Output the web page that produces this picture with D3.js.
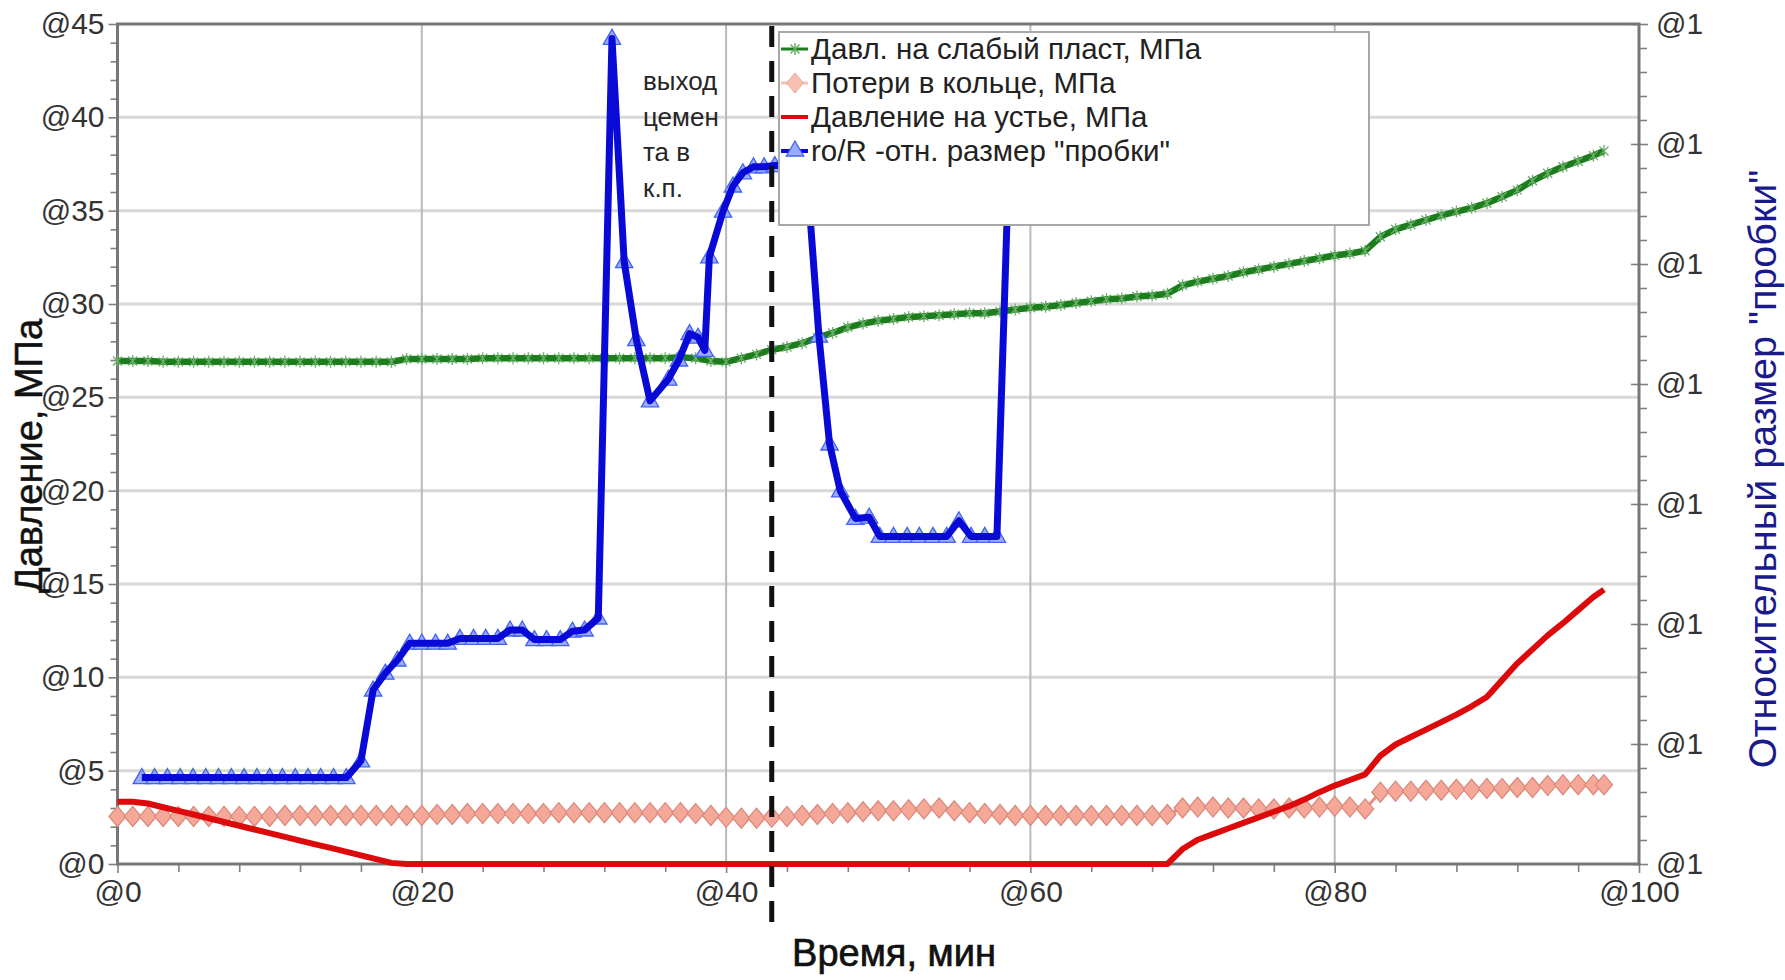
<!DOCTYPE html>
<html><head><meta charset="utf-8">
<script src="https://cdn.jsdelivr.net/npm/d3@7/dist/d3.min.js"></script>
<style>
body{margin:0;background:#fff;}
text{font-family:"Liberation Sans",Arial,sans-serif;}
</style>
</head><body>
<svg id="chart" width="1785" height="980"></svg>
<script>
// ---------------- DATA ----------------
// shared time grid (min) for the three pressure series
const timeGrid = [0,1,2,3,4,5,6,7,8,9,10,11,12,13,14,15,16,17,18,19,20,21,22,23,24,25,26,27,28,29,30,31,32,33,34,35,36,37,38,39,40,41,42,43,44,45,46,47,48,49,50,51,52,53,54,55,56,57,58,59,60,61,62,63,64,65,66,67,68,69,70,71,72,73,74,75,76,77,78,79,80,81,82,83,84,85,86,87,88,89,90,91,92,93,94,95,96,97,97.7];

// Давл. на слабый пласт, МПа
const weakLayerPressure = [26.95,26.95,26.95,26.9,26.9,26.9,26.9,26.9,26.9,26.9,26.9,26.9,26.9,26.9,26.9,26.9,26.9,26.9,26.9,
  27.05,27.05,27.05,27.05,27.05,27.1,27.1,27.1,27.1,27.1,27.1,27.1,27.1,27.1,27.1,27.1,27.1,27.1,27.15,27.1,
  26.95,26.9,27.1,27.3,27.55,27.7,27.9,28.2,28.45,28.75,28.95,
  29.1,29.2,29.3,29.35,29.4,29.45,29.5,29.5,29.6,29.7,
  29.8,29.85,29.95,30.05,30.15,30.25,30.3,30.4,30.45,30.55,
  31.0,31.2,31.35,31.5,31.7,31.85,32.0,32.15,32.3,32.45,
  32.6,32.7,32.85,33.6,34.0,34.25,34.5,34.75,34.95,35.15,
  35.4,35.75,36.1,36.6,37.0,37.35,37.65,37.95,
  38.2];

// Потери в кольце, МПа
const annulusLosses = [2.55,2.55,2.55,2.55,2.55,2.55,2.55,2.55,2.55,2.55,2.55,
  2.6,2.6,2.6,2.6,2.6,2.6,2.6,2.6,2.6,2.6,
  2.65,2.65,2.7,2.7,2.7,2.7,2.7,2.7,2.75,2.75,
  2.75,2.75,2.75,2.75,2.75,2.75,2.75,2.7,
  2.6,2.5,2.45,2.45,2.5,2.55,2.6,2.65,2.7,2.75,2.8,
  2.85,2.85,2.9,2.95,3.0,2.85,2.75,2.7,2.65,2.6,
  2.6,2.6,2.6,2.6,2.6,2.6,2.6,2.6,2.6,2.65,
  3.0,3.05,3.05,3.0,3.0,2.95,2.95,3.0,3.0,3.05,
  3.1,3.05,2.95,3.85,3.9,3.9,3.95,3.95,4.0,4.0,
  4.05,4.05,4.1,4.1,4.2,4.25,4.25,4.25,
  4.25];

// Давление на устье, МПа
const wellheadPressure = [3.34,3.34,3.24,3.04,2.85,2.65,2.45,2.25,2.05,1.85,
  1.65,1.45,1.25,1.05,0.86,0.66,0.46,0.26,0.06,0,
  0,0,0,0,0,0,0,0,0,0,0,0,0,0,0,0,0,0,0,0,0,0,0,0,0,0,0,0,0,0,
  0,0,0,0,0,0,0,0,0,0,0,0,0,0,0,0,0,0,0,0,
  0.8,1.3,1.6,1.9,2.2,2.5,2.8,3.1,3.45,3.85,
  4.2,4.5,4.8,5.8,6.4,6.8,7.2,7.6,8.0,8.45,
  8.95,9.85,10.75,11.5,12.25,12.9,13.6,14.3,
  14.7];

// ro/R - отн. размер "пробки" (secondary axis)
const plugTime = [1.6,2.44,3.28,4.12,4.96,5.8,6.64,7.48,8.32,9.16,10.0,10.84,11.68,12.52,13.36,14.2,15.04,
  16.0,16.8,17.6,18.4,19.2,20.0,20.9,21.7,22.5,23.4,24.2,25.0,25.8,26.6,27.4,28.2,29.1,29.9,30.7,31.6,
  32.5,33.3,34.1,35.0,36.2,36.9,37.6,38.15,38.6,38.9,39.8,40.45,41.1,41.8,42.5,43.2,44.0,44.7,45.4,
  46.1,46.8,47.5,48.5,49.4,50.1,51.0,51.9,52.7,53.6,54.5,55.3,56.1,57.0,57.8,58.6];
const plugSize = [0.072,0.072,0.072,0.072,0.072,0.072,0.072,0.072,0.072,0.072,0.072,0.072,0.072,0.072,0.072,0.072,0.072,
  0.086,0.145,0.159,0.170,0.184,0.184,0.184,0.184,0.188,0.188,0.188,0.188,0.195,0.195,0.187,0.187,0.187,0.194,0.195,0.205,
  0.688,0.502,0.437,0.386,0.404,0.420,0.442,0.439,0.428,0.506,0.544,0.565,0.576,0.581,0.581,0.582,0.582,0.576,0.560,
  0.440,0.350,0.311,0.288,0.289,0.273,0.273,0.273,0.273,0.273,0.273,0.286,0.273,0.273,0.273,0.591];

const markerTime = 43.0; // vertical dashed marker

const leftTickValues = [0,5,10,15,20,25,30,35,40,45];
const leftTickLabels = ["@0","@5","@10","@15","@20","@25","@30","@35","@40","@45"];
const xTickValues = [0,20,40,60,80,100];
const xTickLabels = ["@0","@20","@40","@60","@80","@100"];
const rightTickValues = [0,0.1,0.2,0.3,0.4,0.5,0.6,0.7];
const rightTickLabels = ["@1","@1","@1","@1","@1","@1","@1","@1"];

const seriesNames = ["Давл. на слабый пласт, МПа","Потери в кольце, МПа","Давление на устье, МПа","ro/R -отн. размер \"пробки\""];
const annotationLines = ["выход","цемен","та в","к.п."];
const xTitle = "Время, мин";
const yTitle = "Давление, МПа";
const y2Title = "Относительный размер \"пробки\"";

// ---------------- LAYOUT ----------------
const M = {left:117.5, right:1639, top:24, bottom:864};
const x = d3.scaleLinear().domain([0,100]).range([M.left, M.right]);
const y = d3.scaleLinear().domain([0,45]).range([M.bottom, M.top]);
const y2 = d3.scaleLinear().domain([0,0.7]).range([M.bottom, M.top]);
const svg = d3.select("#chart");

const C = {green:"#1b7d1b", greenMk:"#6aae6a", red:"#dc0a0a", blue:"#0a0ad6",
  triFill:"#9aacff", triStroke:"#4262f0", salFill:"#f6a898", salStroke:"#d98a7d", salLine:"#ef8a7a"};

// gridlines
const grid = svg.append("g");
grid.selectAll(".hg").data(leftTickValues.filter(v=>v>0 && v<45)).join("line")
  .attr("x1",M.left).attr("x2",M.right).attr("y1",d=>y(d)).attr("y2",d=>y(d))
  .attr("stroke","#d8d8d8").attr("stroke-width",3);
grid.selectAll(".vg").data(xTickValues.filter(v=>v>0 && v<100)).join("line")
  .attr("y1",M.top).attr("y2",M.bottom).attr("x1",d=>x(d)).attr("x2",d=>x(d))
  .attr("stroke","#b9b9b9").attr("stroke-width",2);

function styleAxis(g){
  g.select(".domain").remove();
  g.selectAll(".tick line").attr("stroke","#808080").attr("stroke-width",1.6);
  g.selectAll(".tick text").attr("fill","#333").style("font-size","30px");
}
// minor ticks
svg.append("g").attr("transform",`translate(${M.left},0)`)
  .call(d3.axisLeft(y).tickValues(d3.range(0,46,1).filter(v=>v%5)).tickSize(7).tickFormat(""))
  .call(styleAxis);
svg.append("g").attr("transform",`translate(0,${M.bottom})`)
  .call(d3.axisBottom(x).tickValues(d3.range(0,101,4).filter(v=>v%20)).tickSize(8).tickFormat(""))
  .call(styleAxis);
svg.append("g").attr("transform",`translate(${M.right},0)`)
  .call(d3.axisRight(y2).tickValues(d3.range(0,70,2).map(v=>v/100).filter((v,i)=>i%5)).tickSize(8).tickFormat(""))
  .call(styleAxis);
// major axes
svg.append("g").attr("transform",`translate(${M.left},0)`)
  .call(d3.axisLeft(y).tickValues(leftTickValues).tickSize(9).tickPadding(4).tickFormat((d,i)=>leftTickLabels[i]))
  .call(styleAxis);
svg.append("g").attr("transform",`translate(0,${M.bottom})`)
  .call(d3.axisBottom(x).tickValues(xTickValues).tickSize(9).tickPadding(8).tickFormat((d,i)=>xTickLabels[i]))
  .call(styleAxis);
const ax2 = svg.append("g").attr("transform",`translate(${M.right},0)`)
  .call(d3.axisRight(y2).tickValues(rightTickValues).tickSize(9).tickPadding(8).tickFormat((d,i)=>rightTickLabels[i]))
  .call(styleAxis);
ax2.selectAll(".tick line").attr("x1",-8);

// frame
svg.append("rect").attr("x",M.left).attr("y",M.top).attr("width",M.right-M.left).attr("height",M.bottom-M.top)
  .attr("fill","none").attr("stroke","#777").attr("stroke-width",3);

// ---------------- SERIES ----------------
const lineL = d3.line().x(d=>x(d[0])).y(d=>y(d[1]));
const lineR = d3.line().x(d=>x(d[0])).y(d=>y2(d[1]));
const gData = timeGrid.map((t,i)=>[t,weakLayerPressure[i]]);
const sData = timeGrid.map((t,i)=>[t,annulusLosses[i]]);
const rData = timeGrid.map((t,i)=>[t,wellheadPressure[i]]);
const bData = plugTime.map((t,i)=>[t,plugSize[i]]);

const crossPath = "M-4.5,-4.5L4.5,4.5M-4.5,4.5L4.5,-4.5M0,-6L0,6";
const diamondPath = "M0,-10L8.5,0L0,10L-8.5,0Z";
const triPath = d3.symbol(d3.symbolTriangle).size(130)();

// green
svg.append("path").datum(gData).attr("d",lineL).attr("fill","none")
  .attr("stroke",C.green).attr("stroke-width",6.5).attr("stroke-linejoin","round");
svg.append("g").selectAll("path").data(gData).join("path")
  .attr("transform",d=>`translate(${x(d[0])},${y(d[1])})`).attr("d",crossPath)
  .attr("stroke",C.greenMk).attr("stroke-width",1.3).attr("fill","none");
// salmon
svg.append("path").datum(sData).attr("d",lineL).attr("fill","none")
  .attr("stroke",C.salLine).attr("stroke-width",3);
svg.append("g").selectAll("path").data(sData).join("path")
  .attr("transform",d=>`translate(${x(d[0])},${y(d[1])})`).attr("d",diamondPath)
  .attr("fill",C.salFill).attr("stroke",C.salStroke).attr("stroke-width",1.3);
// red
svg.append("path").datum(rData).attr("d",lineL).attr("fill","none")
  .attr("stroke",C.red).attr("stroke-width",6).attr("stroke-linejoin","round");
// blue (secondary axis)
svg.append("g").selectAll("path").data(bData).join("path")
  .attr("transform",d=>`translate(${x(d[0])},${y2(d[1])+1})`).attr("d",triPath)
  .attr("fill",C.triFill).attr("stroke",C.triStroke).attr("stroke-width",1.3);
svg.append("path").datum(bData).attr("d",lineR).attr("fill","none")
  .attr("stroke",C.blue).attr("stroke-width",7).attr("stroke-linejoin","round");

// dashed marker
svg.append("line").attr("x1",x(markerTime)).attr("x2",x(markerTime)).attr("y1",M.top+2).attr("y2",935)
  .attr("stroke","#111").attr("stroke-width",5).attr("stroke-dasharray","21,14");

// annotation
svg.append("g").selectAll("text").data(annotationLines).join("text")
  .attr("x",643).attr("y",(d,i)=>90+i*35.5).text(d=>d)
  .attr("fill","#262626").style("font-size","26px");

// ---------------- LEGEND ----------------
const lg = svg.append("g");
lg.append("rect").attr("x",779).attr("y",32).attr("width",590).attr("height",193)
  .attr("fill","#fff").attr("stroke","#a8a8a8").attr("stroke-width",2);
const rowY = [49,83,117,151];
const items = lg.selectAll(".it").data(seriesNames).join("g")
  .attr("transform",(d,i)=>`translate(0,${rowY[i]})`);
items.append("text").attr("x",811).attr("y",0).attr("dy","0.35em").text(d=>d)
  .attr("fill","#222").style("font-size","29.5px");
// symbols
const it = items.nodes().map(n=>d3.select(n));
it[0].append("line").attr("x1",781).attr("x2",808).attr("stroke",C.green).attr("stroke-width",3);
it[0].append("path").attr("transform","translate(795,0)").attr("d",crossPath).attr("stroke",C.greenMk).attr("stroke-width",1.5).attr("fill","none");
it[1].append("line").attr("x1",781).attr("x2",808).attr("stroke","#f6c0b4").attr("stroke-width",3);
it[1].append("path").attr("transform","translate(795,0)").attr("d",diamondPath).attr("fill","#f8c0b2").attr("stroke","#eaa898").attr("stroke-width",1);
it[2].append("line").attr("x1",781).attr("x2",808).attr("stroke",C.red).attr("stroke-width",4);
it[3].append("line").attr("x1",781).attr("x2",808).attr("stroke",C.blue).attr("stroke-width",4);
it[3].append("path").attr("transform","translate(795,0)").attr("d",triPath).attr("fill",C.triFill).attr("stroke",C.triStroke).attr("stroke-width",1.3);

// ---------------- TITLES ----------------
svg.append("text").attr("x",894).attr("y",966).attr("text-anchor","middle").text(xTitle)
  .attr("fill","#111").attr("stroke","#111").attr("stroke-width",0.7).style("font-size","38px");
svg.append("text").attr("transform","translate(42,456) rotate(-90)").attr("text-anchor","middle").text(yTitle)
  .attr("fill","#111").attr("stroke","#111").attr("stroke-width",0.5).style("font-size","38px");
svg.append("text").attr("transform","translate(1776,469) rotate(-90)").attr("text-anchor","middle").text(y2Title)
  .attr("fill","#1a1a8c").style("font-size","39.5px");
</script>
</body></html>
